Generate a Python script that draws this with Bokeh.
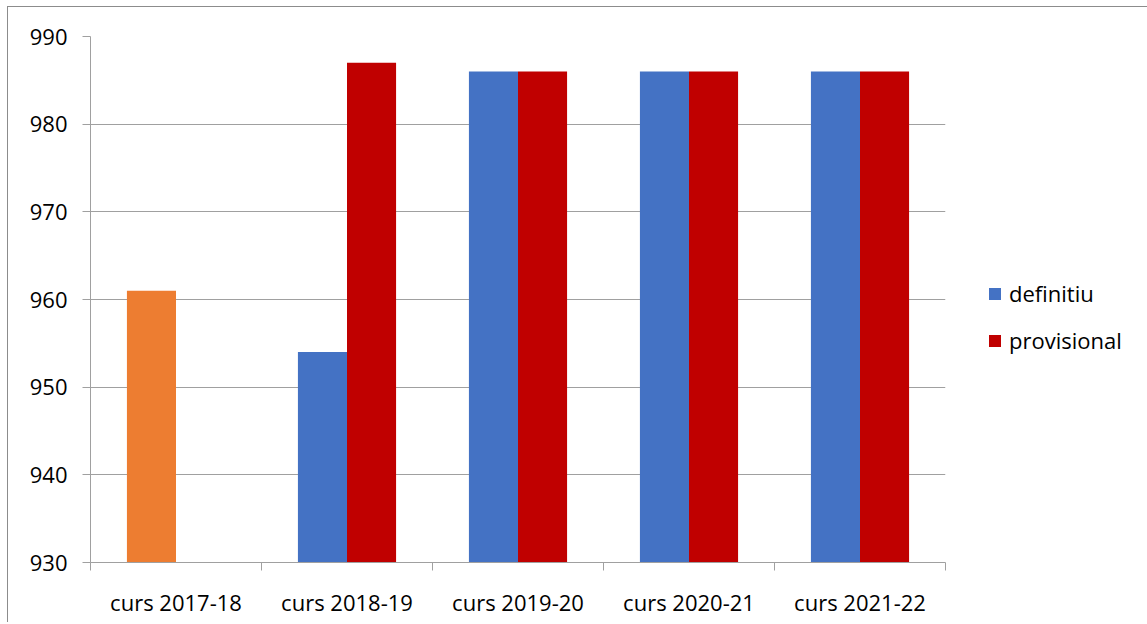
from bokeh.plotting import figure
from bokeh.models import ColumnDataSource, Range1d, FixedTicker, Legend, LegendItem
from bokeh.embed import file_html
from bokeh.resources import INLINE

categories = ["curs 2017-18", "curs 2018-19", "curs 2019-20", "curs 2020-21", "curs 2021-22"]
definitiu = [961, 954, 986, 986, 986]
definitiu_colors = ["#ED7D31", "#4472C4", "#4472C4", "#4472C4", "#4472C4"]
provisional = [None, 987, 986, 986, 986]
y_ticks = [930, 940, 950, 960, 970, 980, 990]

FONT = "Open Sans"
GRID = "#A0A0A0"
BAR_W = 0.287

p = figure(output_backend="svg", toolbar_location=None,
           width=1138, height=615,
           frame_width=855, frame_height=526,
           min_border_left=82, min_border_right=201,
           min_border_top=29, min_border_bottom=60,
           x_range=Range1d(0, 5), y_range=Range1d(930, 990))
p.styles = {"border-top": "1px solid #8c8c8c", "border-left": "1px solid #8c8c8c",
            "margin-left": "7px", "margin-top": "6px"}
p.outline_line_color = None
p.background_fill_color = "white"
p.border_fill_color = "white"

idx = list(range(len(categories)))
src_d = ColumnDataSource(dict(x=[i + 0.5 - BAR_W / 2 for i in idx], top=definitiu, color=definitiu_colors))
pi = [i for i in idx if provisional[i] is not None]
src_p = ColumnDataSource(dict(x=[i + 0.5 + BAR_W / 2 for i in pi], top=[provisional[i] for i in pi]))

r_d = p.vbar(x="x", top="top", bottom=930, width=BAR_W, fill_color="color", line_color=None, source=src_d)
r_p = p.vbar(x="x", top="top", bottom=930, width=BAR_W, fill_color="#C00000", line_color=None, source=src_p)

# legend proxies (off-range, invisible in the plot)
leg_d = p.vbar(x=[-10], top=[0], bottom=0, width=0.1, fill_color="#4472C4", line_color=None)
leg_p = p.vbar(x=[-10], top=[0], bottom=0, width=0.1, fill_color="#C00000", line_color=None)

# axes
p.xgrid.grid_line_color = None
p.ygrid.grid_line_color = GRID
p.ygrid.grid_line_width = 1
p.ygrid.ticker = FixedTicker(ticks=y_ticks)

p.yaxis.ticker = FixedTicker(ticks=y_ticks)
p.yaxis.axis_line_color = GRID
p.yaxis.major_tick_line_color = GRID
p.yaxis.major_tick_out = 8
p.yaxis.major_tick_in = 0
p.yaxis.minor_tick_line_color = None
p.yaxis.major_label_text_font = FONT
p.yaxis.major_label_text_font_size = "22px"
p.yaxis.major_label_text_color = "#000000"
p.yaxis.major_label_standoff = 15

p.xaxis.ticker = FixedTicker(ticks=[i + 0.5 for i in idx], minor_ticks=[i for i in range(len(categories) + 1)])
p.xaxis.major_label_overrides = {i + 0.5: c for i, c in enumerate(categories)}
p.xaxis.axis_line_color = GRID
p.xaxis.major_tick_line_color = None
p.xaxis.minor_tick_line_color = GRID
p.xaxis.minor_tick_out = 8
p.xaxis.minor_tick_in = 0
p.xaxis.major_label_text_font = FONT
p.xaxis.major_label_text_font_size = "22px"
p.xaxis.major_label_text_color = "#000000"
p.xaxis.major_label_standoff = 16

legend = Legend(items=[LegendItem(label="definitiu", renderers=[leg_d]),
                       LegendItem(label="provisional", renderers=[leg_p])],
                location=(42, 207))
legend.glyph_width = 15
legend.glyph_height = 15
legend.label_height = 20
legend.spacing = 17
legend.padding = 0
legend.margin = 0
legend.label_standoff = 7
legend.border_line_color = None
legend.background_fill_alpha = 0
legend.label_text_font = FONT
legend.label_text_font_size = "22px"
legend.label_text_color = "#000000"
p.add_layout(legend, "right")

open("out.html", "w").write(file_html(p, INLINE))
